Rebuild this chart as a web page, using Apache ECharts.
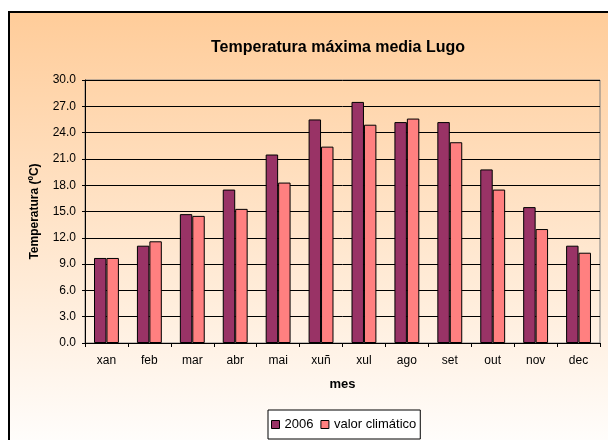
<!DOCTYPE html>
<html>
<head>
<meta charset="utf-8">
<script src="https://cdn.jsdelivr.net/npm/echarts@6/dist/echarts.min.js"></script>
<style>html,body{margin:0;padding:0;background:#fff;}#c{width:608px;height:440px;}</style>
</head>
<body>
<div id="c"></div>
<script>
const categories = ['xan','feb','mar','abr','mai','xuñ','xul','ago','set','out','nov','dec'];
const values2006 = [9.7, 11.1, 14.7, 17.5, 21.5, 25.5, 27.5, 25.2, 25.2, 19.8, 15.5, 11.1];
const valuesClim = [9.7, 11.6, 14.5, 15.3, 18.3, 22.4, 24.9, 25.6, 22.9, 17.5, 13.0, 10.3];
const seriesNames = ['2006', 'valor climático'];
const titleText = 'Temperatura máxima media Lugo';
const yAxisName = 'Temperatura (ºC)';
const xAxisName = 'mes';

const FONT = "'Liberation Sans', Arial, sans-serif";
const chart = echarts.init(document.getElementById('c'), null, {renderer: 'canvas'});
chart.setOption({
  backgroundColor: '#ffffff',
  animation: false,
  textStyle: {fontFamily: FONT},
  graphic: [{
    type: 'rect',
    z: -10,
    shape: {x: 9, y: 12, width: 640, height: 460},
    style: {
      fill: new echarts.graphic.LinearGradient(0, 0, 0, 1, [
        {offset: 0, color: '#FFCC99'},
        {offset: 0.93, color: '#FFFDFB'},
        {offset: 1, color: '#FFFFFF'}
      ]),
      stroke: '#000000',
      lineWidth: 2
    }
  }],
  title: {
    text: titleText,
    left: 333,
    top: 35,
    textAlign: 'center',
    textStyle: {fontFamily: FONT, fontSize: 16, fontWeight: 'bold', color: '#000'}
  },
  legend: {
    data: seriesNames,
    left: 268,
    top: 410,
    orient: 'horizontal',
    icon: 'rect',
    itemWidth: 8,
    itemHeight: 8,
    itemGap: 7,
    padding: [8, 4, 8, 3],
    borderColor: '#000',
    borderWidth: 1,
    backgroundColor: '#ffffff',
    textStyle: {fontFamily: FONT, fontSize: 13, color: '#000'},
    itemStyle: {borderColor: '#000', borderWidth: 1}
  },
  grid: {
    left: 85, right: 8, top: 80, bottom: 97,
    show: true,
    borderColor: '#808080',
    borderWidth: 1,
    backgroundColor: 'transparent'
  },
  xAxis: {
    type: 'category',
    data: categories,
    name: xAxisName,
    nameLocation: 'middle',
    nameGap: 35,
    nameTextStyle: {fontFamily: FONT, fontSize: 13, fontWeight: 'bold', color: '#000'},
    axisLine: {lineStyle: {color: '#000', width: 1}},
    axisTick: {show: true, length: 4, lineStyle: {color: '#000'}},
    axisLabel: {fontFamily: FONT, fontSize: 12, color: '#000', margin: 12}
  },
  yAxis: {
    type: 'value',
    min: 0, max: 30, interval: 3,
    name: yAxisName,
    nameLocation: 'middle',
    nameGap: 44,
    nameTextStyle: {fontFamily: FONT, fontSize: 12, fontWeight: 'bold', color: '#000'},
    axisLine: {show: true, lineStyle: {color: '#000', width: 1}},
    axisTick: {show: true, length: 3, lineStyle: {color: '#000'}},
    axisLabel: {fontFamily: FONT, fontSize: 12, color: '#000', margin: 9, formatter: v => v.toFixed(1)},
    splitLine: {show: true, lineStyle: {color: '#000', width: 1}}
  },
  series: [
    {
      name: seriesNames[0], type: 'bar', data: values2006,
      barGap: '0%', barCategoryGap: '42%',
      itemStyle: {color: '#993366', borderColor: '#000', borderWidth: 1}
    },
    {
      name: seriesNames[1], type: 'bar', data: valuesClim,
      barGap: '0%', barCategoryGap: '42%',
      itemStyle: {color: '#FF8080', borderColor: '#000', borderWidth: 1}
    }
  ]
});
</script>
</body>
</html>
